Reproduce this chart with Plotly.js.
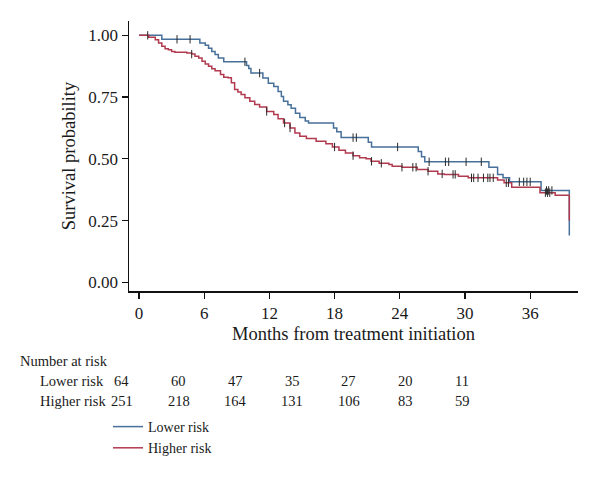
<!DOCTYPE html>
<html><head><meta charset="utf-8">
<script src="https://cdn.plot.ly/plotly-3.0.1.min.js"></script>
<style>html,body{margin:0;padding:0;background:#fff}</style>
</head><body><div id="chart" style="width:600px;height:480px"></div>
<script>
// ---- data ----
const lowerTimes = [0, 2.1, 5.6, 6.1, 6.4, 6.7, 7.0, 7.3, 7.8, 9.9, 10.1, 10.3, 11.4, 11.9, 12.4, 12.8, 13.1, 13.3, 13.7, 14.0, 14.4, 14.8, 15.3, 15.6, 17.9, 18.2, 18.6, 21.1, 21.4, 25.7, 26.0, 26.3, 32.2, 33.0, 33.5, 34.1, 37.0, 39.6];
const lowerSurv = [1.0, 0.984, 0.969, 0.960, 0.948, 0.935, 0.922, 0.908, 0.893, 0.878, 0.866, 0.847, 0.827, 0.806, 0.793, 0.773, 0.752, 0.733, 0.719, 0.705, 0.685, 0.667, 0.653, 0.645, 0.625, 0.610, 0.586, 0.567, 0.548, 0.530, 0.508, 0.488, 0.466, 0.437, 0.423, 0.407, 0.372, 0.19];
const higherTimes = [0, 0.9, 1.5, 1.8, 2.1, 2.4, 2.7, 3.0, 3.3, 4.4, 4.85, 5.15, 5.5, 5.8, 6.1, 6.4, 6.7, 7.0, 7.5, 7.8, 8.2, 8.5, 8.8, 9.1, 9.4, 9.75, 10.2, 10.65, 11.1, 11.75, 12.4, 12.8, 13.3, 13.9, 14.35, 14.8, 15.4, 16.3, 17.2, 17.8, 18.4, 19.0, 19.7, 20.3, 20.9, 21.35, 22.1, 23.0, 23.3, 24.2, 25.6, 26.6, 27.5, 28.1, 29.4, 30.3, 33.0, 33.6, 34.3, 36.9, 38.3, 39.6];
const higherSurv = [1.0, 0.992, 0.982, 0.969, 0.956, 0.946, 0.942, 0.935, 0.931, 0.928, 0.924, 0.915, 0.908, 0.895, 0.884, 0.875, 0.865, 0.857, 0.841, 0.830, 0.828, 0.808, 0.781, 0.771, 0.760, 0.747, 0.733, 0.720, 0.710, 0.692, 0.679, 0.662, 0.645, 0.625, 0.605, 0.591, 0.582, 0.571, 0.561, 0.548, 0.535, 0.524, 0.513, 0.504, 0.500, 0.490, 0.482, 0.477, 0.470, 0.466, 0.457, 0.450, 0.439, 0.437, 0.430, 0.423, 0.414, 0.403, 0.385, 0.363, 0.353, 0.25];
const lowerCensor = [0.8, 3.5, 4.7, 9.75, 11.1, 19.7, 20.0, 23.8, 26.7, 28.2, 28.5, 30.1, 31.5, 35.0, 35.4, 35.7, 36.0, 37.5, 37.7, 38.0];
const higherCensor = [4.85, 11.75, 13.4, 13.9, 18.0, 19.7, 21.4, 22.3, 24.2, 25.2, 25.5, 26.6, 27.9, 28.9, 29.1, 30.6, 30.8, 31.2, 31.7, 32.1, 32.3, 32.6, 33.8, 34.0, 37.4, 37.6, 37.8];
const seriesNames = ["Lower risk", "Higher risk"];
const riskTitle = "Number at risk";
const lowerAtRisk = [64, 60, 47, 35, 27, 20, 11];
const higherAtRisk = [251, 218, 164, 131, 106, 83, 59];
const xTicks = [0, 6, 12, 18, 24, 30, 36];
const yTicks = [0, 0.25, 0.5, 0.75, 1.0];
const xTitle = "Months from treatment initiation";
const yTitle = "Survival probability";

// ---- styling / geometry ----
const W = 600, H = 480;
const M = {l: 129, r: 22, t: 21, b: 189};
const PW = W - M.l - M.r, PH = H - M.t - M.b;
const FONT = "Liberation Serif, Times New Roman, serif";
const TXT = "#1a1a1a";
const BLUE = "#47709a", RED = "#b23a4f";
const px2x = px => (px - M.l) / PW;
const py2y = py => (H - M.b - py) / PH;

function stepAt(times, surv, t) {
  let s = surv[0];
  for (let i = 0; i < times.length; i++) if (times[i] <= t) s = surv[i];
  return s;
}

const traces = [
  {x: lowerTimes, y: lowerSurv, type: "scatter", mode: "lines", name: seriesNames[0],
   line: {shape: "hv", color: BLUE, width: 1.5}, legendgroup: "a"},
  {x: higherTimes, y: higherSurv, type: "scatter", mode: "lines", name: seriesNames[1],
   line: {shape: "hv", color: RED, width: 1.5}, legendgroup: "b"},
  {x: lowerCensor, y: lowerCensor.map(t => stepAt(lowerTimes, lowerSurv, t)), type: "scatter", mode: "markers",
   showlegend: false, hoverinfo: "skip",
   marker: {symbol: "line-ns", size: 6, line: {color: "#2a2a2a", width: 1}}},
  {x: higherCensor, y: higherCensor.map(t => stepAt(higherTimes, higherSurv, t)), type: "scatter", mode: "markers",
   showlegend: false, hoverinfo: "skip",
   marker: {symbol: "line-ns", size: 6, line: {color: "#2a2a2a", width: 1}}}
];

// number-at-risk table (separate block under the plot)
const col0 = 121.7, colStep = 56.8;
const ann = [];
ann.push({text: riskTitle, x: px2x(18), y: py2y(361), xanchor: "left", yanchor: "middle"});
ann.push({text: seriesNames[0], x: px2x(38), y: py2y(381), xanchor: "left", yanchor: "middle"});
ann.push({text: seriesNames[1], x: px2x(38), y: py2y(401), xanchor: "left", yanchor: "middle"});
lowerAtRisk.forEach((v, i) => ann.push({text: String(v), x: px2x(col0 + i * colStep), y: py2y(381), xanchor: "center", yanchor: "middle"}));
higherAtRisk.forEach((v, i) => ann.push({text: String(v), x: px2x(col0 + i * colStep), y: py2y(401), xanchor: "center", yanchor: "middle"}));
ann.forEach(a => { a.xref = "paper"; a.yref = "paper"; a.showarrow = false; a.font = {family: FONT, size: 14.5, color: TXT}; });

const layout = {
  width: W, height: H,
  margin: M,
  paper_bgcolor: "#fff", plot_bgcolor: "#fff",
  font: {family: FONT, color: TXT, size: 16},
  showlegend: true,
  legend: {x: px2x(108), y: py2y(411), xanchor: "left", yanchor: "top",
           font: {family: FONT, size: 14, color: TXT}, traceorder: "grouped", tracegroupgap: 0,
           bgcolor: "rgba(0,0,0,0)"},
  xaxis: {range: [-0.92, 40.4], tickvals: xTicks, ticktext: xTicks.map(String),
          ticks: "outside", ticklen: 6, tickwidth: 1.3, tickcolor: "#111",
          showline: true, linecolor: "#111", linewidth: 1.5, zeroline: false, showgrid: false,
          tickfont: {family: FONT, size: 17, color: TXT},
          title: {text: xTitle, font: {family: FONT, size: 18.5, color: TXT}, standoff: 5}},
  yaxis: {range: [-0.035, 1.058], tickvals: yTicks, ticktext: yTicks.map(v => v.toFixed(2)),
          ticks: "outside", ticklen: 6, tickwidth: 1.3, tickcolor: "#111",
          showline: true, linecolor: "#111", linewidth: 1.5, zeroline: false, showgrid: false,
          tickfont: {family: FONT, size: 17, color: TXT},
          title: {text: yTitle, font: {family: FONT, size: 18.5, color: TXT}, standoff: 8}},
  annotations: ann
};

Plotly.newPlot("chart", traces, layout, {displayModeBar: false, staticPlot: true});
</script></body></html>
